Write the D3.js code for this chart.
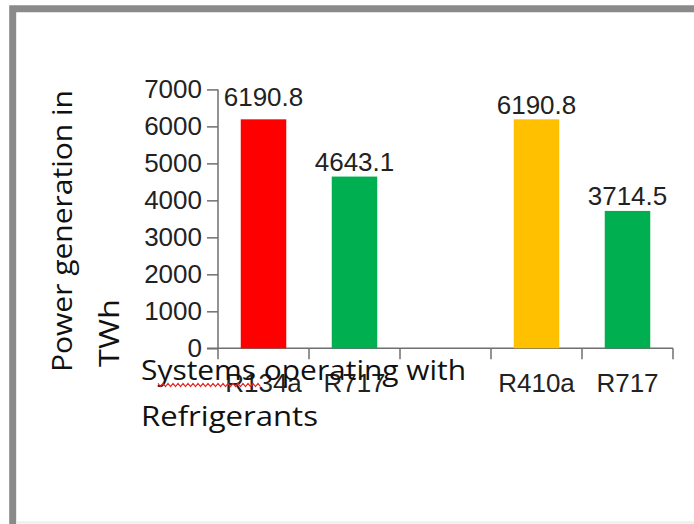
<!DOCTYPE html>
<html>
<head>
<meta charset="utf-8">
<script src="https://cdn.jsdelivr.net/npm/d3@7"></script>
<style>
  html, body { margin: 0; padding: 0; background: #ffffff; }
  svg { display: block; }
</style>
</head>
<body>
<svg id="chart" width="694" height="524"></svg>
<script>
// Refrigerant systems and their power generation (TWh); the third slot is an empty spacer
const slotIds = ["r134a", "r717a", "gap", "r410a", "r717b"];
const categoryLabels = ["R134a", "R717", "", "R410a", "R717"];
const powerValues = [6190.8, 4643.1, null, 6190.8, 3714.5];
const yTicks = [0, 1000, 2000, 3000, 4000, 5000, 6000, 7000];
const yTitleLines = ["Power generation in", "TWh"];
const xTitleLines = ["Systems operating with", "Refrigerants"];

const barColors = ["#ff0000", "#00b050", "none", "#ffc000", "#00b050"];

const svg = d3.select("#chart");
const W = 694, H = 524;

// Page frame
svg.append("path")
  .attr("d", `M12.7,${H + 10} V8.8 H${W + 10}`)
  .attr("fill", "none")
  .attr("stroke", "#8a8a8a")
  .attr("stroke-width", 7);
svg.append("line")
  .attr("x1", 16).attr("x2", W).attr("y1", 522.5).attr("y2", 522.5)
  .attr("stroke", "#ececec").attr("stroke-width", 2);

const plot = { left: 218, right: 673, top: 89.4, bottom: 348.3 };

const x = d3.scaleBand()
  .domain(slotIds)
  .range([plot.left, plot.right]);

const y = d3.scaleLinear()
  .domain([0, 7000])
  .range([plot.bottom, plot.top]);

const axisColor = "#6f6f6f";
const numFont = "'Liberation Sans', Arial, sans-serif";
const handFont = "'Comic Sans MS', 'Open Sans', sans-serif";

// Y axis: ticks point outward to the left
const yAxis = svg.append("g")
  .attr("transform", `translate(${plot.left},0)`)
  .call(d3.axisLeft(y).tickValues(yTicks).tickFormat(d3.format("d"))
    .tickSize(11).tickPadding(5).tickSizeOuter(0));
yAxis.select(".domain").remove();
yAxis.selectAll(".tick line").attr("stroke", axisColor).attr("stroke-width", 1.5);
yAxis.selectAll(".tick text")
  .attr("font-family", numFont).attr("font-size", 26).attr("fill", "#222");
svg.append("line")
  .attr("x1", plot.left).attr("x2", plot.left)
  .attr("y1", y(7000)).attr("y2", plot.bottom + 11)
  .attr("stroke", axisColor).attr("stroke-width", 1.5);

// X axis baseline with tick marks between categories
svg.append("line")
  .attr("x1", plot.left - 11).attr("x2", plot.right)
  .attr("y1", y(0)).attr("y2", y(0))
  .attr("stroke", axisColor).attr("stroke-width", 1.5);
const boundaries = slotIds.map(id => x(id) + x.bandwidth());
svg.selectAll(".xtick")
  .data(boundaries)
  .join("line")
  .attr("class", "xtick")
  .attr("x1", d => d).attr("x2", d => d)
  .attr("y1", y(0)).attr("y2", y(0) + 11)
  .attr("stroke", axisColor).attr("stroke-width", 1.5);

// Bars
const rows = slotIds.map((id, i) => ({ id, label: categoryLabels[i], value: powerValues[i], color: barColors[i], i }));
const bw = x.bandwidth();
svg.selectAll(".bar")
  .data(rows.filter(d => d.value != null))
  .join("rect")
  .attr("class", "bar")
  .attr("x", d => x(d.id) + bw * 0.25)
  .attr("width", bw * 0.5)
  .attr("y", d => y(d.value))
  .attr("height", d => y(0) - y(d.value))
  .attr("fill", d => d.color);

// Value labels above bars; the first one is lifted clear of the top tick
svg.selectAll(".val")
  .data(rows.filter(d => d.value != null))
  .join("text")
  .attr("class", "val")
  .attr("x", d => x(d.id) + bw / 2)
  .attr("y", d => y(d.value) - (d.i === 0 ? 13 : 5.5))
  .attr("text-anchor", "middle")
  .attr("font-family", numFont)
  .attr("font-size", 26)
  .attr("fill", "#222")
  .text(d => d.value.toFixed(1));

// Category labels
svg.selectAll(".cat")
  .data(rows.filter(d => d.label))
  .join("text")
  .attr("class", "cat")
  .attr("x", d => x(d.id) + bw / 2)
  .attr("y", 392)
  .attr("text-anchor", "middle")
  .attr("font-family", numFont)
  .attr("font-size", 26)
  .attr("fill", "#222")
  .text(d => d.label);

// Y axis title (two rotated lines)
const yTitlePos = [{ bx: 72, sy: 372, len: 282 }, { bx: 119, sy: 367, len: 68 }];
yTitleLines.forEach((t, i) => {
  svg.append("text")
    .attr("transform", `translate(${yTitlePos[i].bx},${yTitlePos[i].sy}) rotate(-90)`)
    .attr("font-family", handFont)
    .attr("font-size", 28)
    .attr("fill", "#111")
    .attr("textLength", yTitlePos[i].len)
    .attr("lengthAdjust", "spacingAndGlyphs")
    .text(t);
});

// X axis title (two lines)
const xTitlePos = [{ x: 141, y: 380, len: 325 }, { x: 141, y: 426, len: 177 }];
xTitleLines.forEach((t, i) => {
  svg.append("text")
    .attr("x", xTitlePos[i].x)
    .attr("y", xTitlePos[i].y)
    .attr("font-family", handFont)
    .attr("font-size", 28)
    .attr("fill", "#111")
    .attr("textLength", xTitlePos[i].len)
    .attr("lengthAdjust", "spacingAndGlyphs")
    .text(t);
});

// Wavy red underline beneath "Systems"
const wave = d3.range(158, 261, 2.5).map((px, k) => [px, 385 + (k % 2 ? 1.6 : -1.6)]);
svg.append("path")
  .attr("d", d3.line()(wave))
  .attr("fill", "none")
  .attr("stroke", "#e52222")
  .attr("stroke-width", 1.1);
</script>
</body>
</html>
